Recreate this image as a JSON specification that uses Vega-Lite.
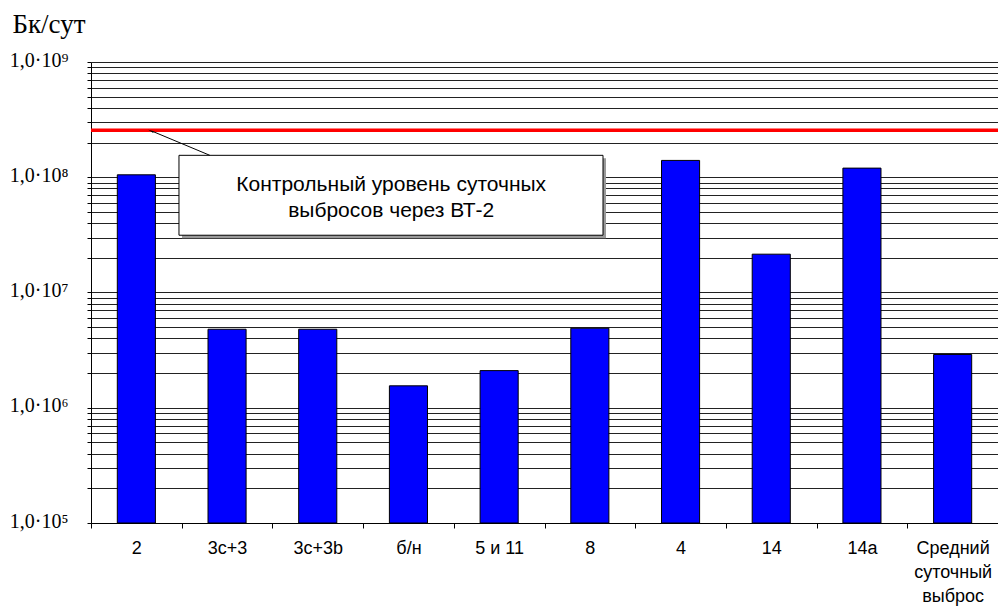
{
  "$schema": "https://vega.github.io/schema/vega-lite/v6.json",
  "width": 907,
  "height": 461,
  "autosize": {"type": "none"},
  "padding": {"left": 91, "top": 62, "right": 0, "bottom": 84},
  "background": "white",
  "config": {"view": {"stroke": null}},
  "datasets": {
    "bars": [
      {"cat": "2", "value": 105000000},
      {"cat": "3с+3", "value": 4800000},
      {"cat": "3с+3b", "value": 4800000},
      {"cat": "б/н", "value": 1550000},
      {"cat": "5 и 11", "value": 2100000},
      {"cat": "8", "value": 4900000},
      {"cat": "4", "value": 140000000},
      {"cat": "14", "value": 21500000},
      {"cat": "14а", "value": 120000000},
      {"cat": "Средний суточный выброс", "value": 2900000}
    ],
    "limit": [{"level": 256000000}],
    "box": [{"x1": 0.97, "x2": 5.645, "y1": 155000000, "y2": 31400000}],
    "shadow": [{"x1": 1.003, "x2": 5.678, "y1": 146000000, "y2": 29600000}],
    "label": [{"x": 3.31, "y": 76700000, "t": "Контрольный уровень суточных\nвыбросов через ВТ-2"}],
    "arrow": [
      {"x": 1.31, "y": 155000000},
      {"x": 0.69, "y": 248000000}
    ],
    "tip": [{"x": 0.67, "y": 250000000}]
  },
  "layer": [
    {
      "data": {"name": "bars"},
      "mark": {"type": "bar", "fill": "#0000FF", "stroke": "#000000", "strokeWidth": 1, "width": {"band": 0.42}},
      "encoding": {
        "x": {
          "field": "cat", "type": "nominal", "sort": null,
          "scale": {"paddingInner": 0, "paddingOuter": 0},
          "axis": {
            "title": null,
            "labelAngle": 0,
            "labelFont": "Liberation Sans",
            "labelFontSize": 18,
            "labelColor": "#000",
            "labelPadding": 11,
            "labelLineHeight": 24,
            "labelExpr": "datum.value == 'Средний суточный выброс' ? ['Средний','суточный','выброс'] : datum.label",
            "tickBand": "extent",
            "tickSize": 5,
            "tickColor": "#000",
            "domainColor": "#000",
            "grid": false
          }
        },
        "y": {
          "field": "value", "type": "quantitative",
          "scale": {"type": "log", "domain": [100000, 1000000000], "nice": false},
          "axis": {
            "title": "Бк/сут",
            "titleAngle": 0,
            "titleAlign": "left",
            "titleBaseline": "alphabetic",
            "titleX": -79,
            "titleY": -30,
            "titleFont": "Liberation Serif",
            "titleFontSize": 27,
            "titleFontWeight": "normal",
            "titleColor": "#000",
            "values": [100000,200000,300000,400000,500000,600000,700000,800000,900000,
                       1000000,2000000,3000000,4000000,5000000,6000000,7000000,8000000,9000000,
                       10000000,20000000,30000000,40000000,50000000,60000000,70000000,80000000,90000000,
                       100000000,200000000,300000000,400000000,500000000,600000000,700000000,800000000,900000000,
                       1000000000],
            "labelExpr": "abs(log(datum.value)/LN10 - round(log(datum.value)/LN10)) < 0.001 ? '1,0·10' + ['⁰','¹','²','³','⁴','⁵','⁶','⁷','⁸','⁹'][round(log(datum.value)/LN10)] : ''",
            "labelFont": "Liberation Serif",
            "labelFontSize": 20,
            "labelColor": "#000",
            "labelBaseline": "alphabetic",
            "labelOffset": 4,
            "labelOverlap": false,
            "labelPadding": 19,
            "tickSize": 4,
            "tickColor": "#000",
            "domainColor": "#000",
            "grid": true,
            "gridColor": "#222",
            "gridWidth": 1
          }
        },
        "y2": {"datum": 100000}
      }
    },
    {
      "data": {"name": "limit"},
      "mark": {"type": "rule", "stroke": "#FF0000", "strokeWidth": 3.5},
      "encoding": {"y": {"field": "level", "type": "quantitative"}}
    },
    {
      "layer": [
        {
          "data": {"name": "shadow"},
          "mark": {"type": "rect", "fill": "#9a9a9a"},
          "encoding": {
            "x": {"field": "x1", "type": "quantitative", "scale": {"domain": [0, 10]}, "axis": null},
            "x2": {"field": "x2"},
            "y": {"field": "y1", "type": "quantitative"},
            "y2": {"field": "y2"}
          }
        },
        {
          "data": {"name": "box"},
          "mark": {"type": "rect", "fill": "#ffffff", "stroke": "#000000", "strokeWidth": 1},
          "encoding": {
            "x": {"field": "x1", "type": "quantitative", "scale": {"domain": [0, 10]}, "axis": null},
            "x2": {"field": "x2"},
            "y": {"field": "y1", "type": "quantitative"},
            "y2": {"field": "y2"}
          }
        },
        {
          "data": {"name": "label"},
          "mark": {"type": "text", "font": "Liberation Sans", "fontSize": 21, "color": "#000", "align": "center", "baseline": "alphabetic", "lineBreak": "\n", "lineHeight": 26},
          "encoding": {
            "x": {"field": "x", "type": "quantitative", "scale": {"domain": [0, 10]}, "axis": null},
            "y": {"field": "y", "type": "quantitative"},
            "text": {"field": "t"}
          }
        },
        {
          "data": {"name": "arrow"},
          "mark": {"type": "line", "stroke": "#000", "strokeWidth": 1},
          "encoding": {
            "x": {"field": "x", "type": "quantitative", "scale": {"domain": [0, 10]}, "axis": null},
            "y": {"field": "y", "type": "quantitative"}
          }
        },
        {
          "data": {"name": "tip"},
          "mark": {"type": "point", "shape": "wedge", "filled": true, "color": "#000", "size": 45, "angle": 293, "opacity": 1},
          "encoding": {
            "x": {"field": "x", "type": "quantitative", "scale": {"domain": [0, 10]}, "axis": null},
            "y": {"field": "y", "type": "quantitative"}
          }
        }
      ]
    }
  ],
  "resolve": {"scale": {"x": "independent"}}
}
